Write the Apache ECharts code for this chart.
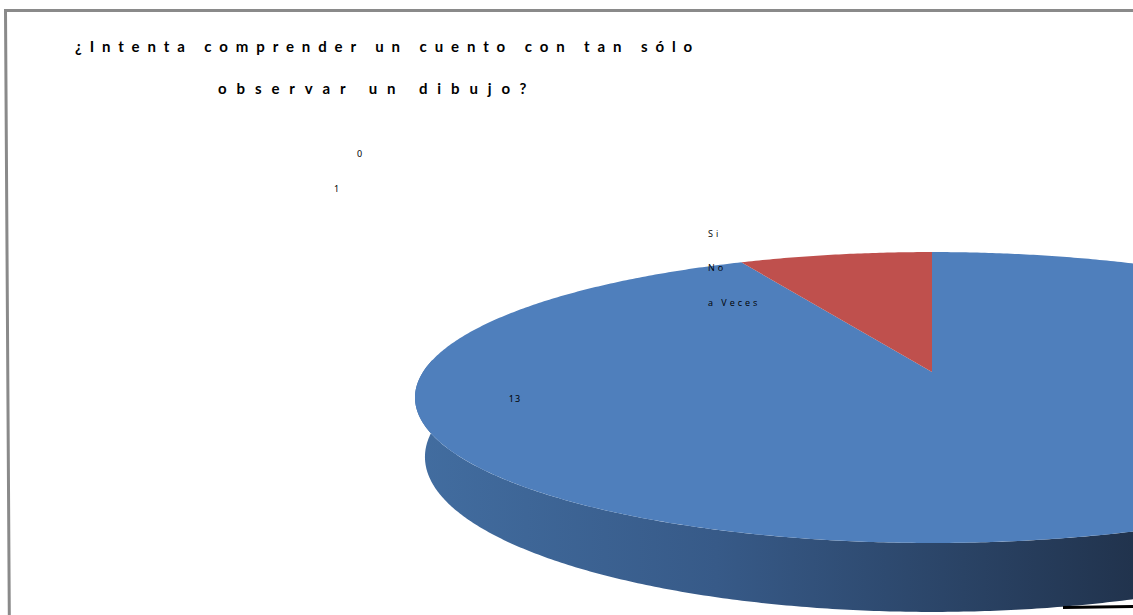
<!DOCTYPE html>
<html>
<head>
<meta charset="utf-8">
<script src="https://cdn.jsdelivr.net/npm/echarts@6/dist/echarts.min.js"></script>
<style>
  html, body { margin: 0; padding: 0; background: #fff; }
  #chart { width: 1133px; height: 615px; }
  /* spaced-out lettering, one rule per text family */
  #chart text[style*="Lato"] { letter-spacing: 7.9px; }
  #chart text[style*="Lato, sans-serif"] { letter-spacing: 9.9px; }
  #chart text[style*="Open Sans"] { letter-spacing: 3px; }
  #chart text[style*="Noto Sans"] { letter-spacing: 1px; }
</style>
</head>
<body>
<div id="chart"></div>
<script>
const categories = ['Si', 'No', 'a Veces'];
const answers = [13, 1, 0];
const titleLines = ['¿Intenta comprender un cuento con tan sólo', 'observar un dibujo?'];
const sliceColors = ['#4f7fbc', '#bf504d', '#9bbb59'];

// Disc seen in perspective: top face and bottom face of the cylinder
const disc = {
  cx: 932,
  k: 0.1753,
  top: { cy: 372, rx: 509, ry: 141 },
  bottom: { cy: 429.8, rx: 499.2, ry: 150.2 }
};
// where each slice's value label sits
const labelAnchors = [[515, 398], [337, 188], [360, 153]];

const total = answers.reduce((a, b) => a + b, 0);

function project(face, deg) {
  const t = deg * Math.PI / 180;
  const s = Math.sin(t), c = Math.cos(t);
  const w = 1 + disc.k * s;
  return [disc.cx + face.rx * c / w, face.cy - face.ry * s / w];
}

function arc(face, a0, a1) {
  const pts = [];
  const n = Math.max(2, Math.ceil(Math.abs(a1 - a0) / 0.5));
  for (let i = 0; i <= n; i++) pts.push(project(face, a0 + (a1 - a0) * i / n));
  return pts;
}

function sideFill(idx) {
  if (idx === 0) {
    return {
      type: 'linear', x: 415, y: 0, x2: 1133, y2: 0, global: true,
      colorStops: [
        { offset: 0, color: '#426da0' },
        { offset: 0.42, color: '#375a88' },
        { offset: 1, color: '#21334d' }
      ]
    };
  }
  const c = sliceColors[idx];
  return {
    type: 'linear', x: 415, y: 0, x2: 1133, y2: 0, global: true,
    colorStops: [
      { offset: 0, color: echarts.color.lift(c, 0.15) },
      { offset: 1, color: echarts.color.lift(c, 0.55) }
    ]
  };
}

function renderSlice(params, api) {
  const idx = params.seriesIndex;
  const value = api.value(0);
  const before = answers.slice(0, idx).reduce((a, b) => a + b, 0);
  // slices run clockwise from 12 o'clock
  const aStart = 90 - before / total * 360;
  const aEnd = aStart - value / total * 360;
  const children = [];
  if (value > 0) {
    // front wall (lower half of the rim)
    for (let n = -1; n <= 1; n++) {
      const f0 = Math.max(aEnd, -185 + 360 * n);
      const f1 = Math.min(aStart, 5 + 360 * n);
      if (f1 > f0) {
        const pts = arc(disc.top, f0, f1).concat(arc(disc.bottom, f1, f0));
        children.push({ type: 'polygon', z2: 1, shape: { points: pts }, style: { fill: sideFill(idx) } });
      }
    }
    // top face
    const topPts = [[disc.cx, disc.top.cy]].concat(arc(disc.top, aStart, aEnd));
    children.push({ type: 'polygon', z2: 10, shape: { points: topPts }, style: { fill: sliceColors[idx] } });
  }
  const p = labelAnchors[idx];
  children.push({
    type: 'text', z2: 20,
    style: {
      text: String(value), x: p[0], y: p[1],
      textAlign: 'center', textVerticalAlign: 'middle',
      fontFamily: 'Noto Sans', fontSize: 9, fill: '#000'
    }
  });
  return { type: 'group', children: children };
}

const chart = echarts.init(document.getElementById('chart'), null, { renderer: 'svg' });

chart.setOption({
  animation: false,
  backgroundColor: '#fff',
  title: [
    { text: titleLines[0], left: 75, top: 38, padding: 0,
      textStyle: { fontFamily: 'Lato', fontWeight: 'bold', fontSize: 15, color: '#000', lineHeight: 16 } },
    { text: titleLines[1], left: 218, top: 80, padding: 0,
      textStyle: { fontFamily: 'Lato, sans-serif', fontWeight: 'bold', fontSize: 15, color: '#000', lineHeight: 16 } }
  ],
  legend: {
    orient: 'vertical', left: 702, top: 228, padding: 0,
    itemWidth: 1, itemHeight: 10, itemGap: 24.5,
    itemStyle: { opacity: 0 },
    data: categories,
    textStyle: { fontFamily: 'Open Sans', fontSize: 9, color: '#000' }
  },
  graphic: [
    { type: 'polyline', z: 50, shape: { points: [[1133, 10.5], [5.5, 10.5], [9.3, 615]] },
      style: { stroke: '#8a8a8a', lineWidth: 3, fill: null } },
    { type: 'line', z: 50, shape: { x1: 1063, y1: 607.5, x2: 1133, y2: 606.5 },
      style: { stroke: '#000', lineWidth: 3 } }
  ],
  series: categories.map((name, i) => ({
    type: 'custom',
    name: name,
    coordinateSystem: 'none',
    color: sliceColors[i],
    renderItem: renderSlice,
    data: [[answers[i]]]
  }))
});
</script>
</body>
</html>
